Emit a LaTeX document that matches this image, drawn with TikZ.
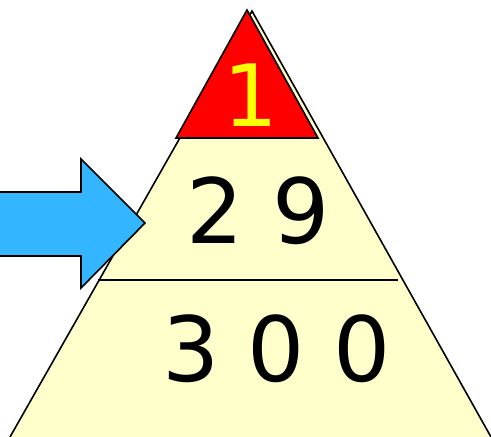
\documentclass[tikz,border=0pt]{standalone}
\usepackage{fontspec}
\setmainfont{DejaVu Sans}
\definecolor{pyellow}{RGB}{255,255,204}
\definecolor{pred}{RGB}{255,0,0}
\definecolor{pblue}{RGB}{51,181,255}
\definecolor{tyellow}{RGB}{255,255,0}
\begin{document}
\begin{tikzpicture}[x=1pt,y=-1pt,
  outline/.style={draw=black,line width=1.6pt,line join=miter},
  digits/.style={font=\fontsize{90}{90}\selectfont,inner sep=0pt,anchor=base}]
\useasboundingbox (0,0) rectangle (491,437);
% big pyramid
\fill[pyellow] (10,437) -- (252,11) -- (491,437) -- cycle;
\draw[outline] (10,437) -- (252,11) -- (491,437);
% divider line
\draw[outline] (98,280) -- (398,280);
% top red triangle
\draw[outline,fill=pred] (176,138) -- (247,10) -- (318,138) -- cycle;
% texts
\node[digits,text=tyellow,font=\fontsize{86}{86}\selectfont] (one) at (251,126) {1};
\node[digits] (two) at (258,243) {2 9};
\node[digits] (three) at (276.5,381) {3 0 0};
% arrow
\draw[outline,fill=pblue] (-5,192) -- (81,192) -- (81,159) -- (145,223) -- (81,288) -- (81,256) -- (-5,256) -- cycle;
\end{tikzpicture}
\end{document}
